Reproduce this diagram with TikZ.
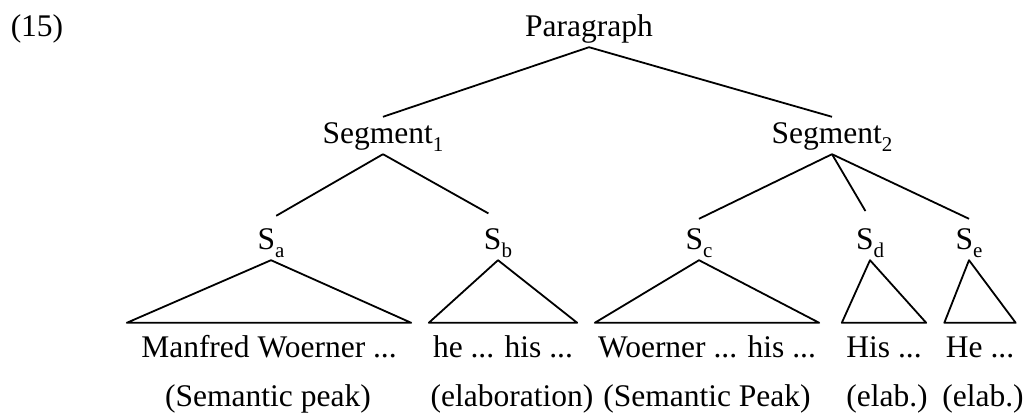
\documentclass[tikz,border=0pt]{standalone}
\usepackage{fontspec}
\setmainfont{Liberation Serif}
\usepackage{tikz}
\newcommand{\lowsub}[1]{\raisebox{-7.5pt}{\fontsize{21}{24}\selectfont #1}}
\tikzstyle{lbl} = [font=\fontsize{31.5}{36}\selectfont, inner sep=2pt, anchor=base]
\tikzstyle{cat} = [lbl, text height=25pt, text depth=8pt]
\tikzstyle{sent} = [lbl, text height=29pt, text depth=8pt]
\tikzstyle{leaf} = [lbl, inner sep=0pt, text height=34pt, text depth=0pt]
\tikzstyle{branch} = [line width=1.8pt, line join=round]

\begin{document}
\begin{tikzpicture}[x=1pt,y=-1pt]
    \useasboundingbox (0,0) rectangle (1028,414);
    \node (ex) [lbl] at (37,37) {(15)};
    \node (par) [cat] at (589,37) {Paragraph};
    \node (seg1) [cat] at (383,144) {Segment\lowsub{1}};
    \node (seg2) [cat] at (832,144) {Segment\lowsub{2}};

    \node (sa) [sent] at (271,250) {S\lowsub{a}};
    \node (sb) [sent] at (498,250) {S\lowsub{b}};
    \node (sc) [sent] at (699,250) {S\lowsub{c}};
    \node (sd) [sent] at (870,250) {S\lowsub{d}};
    \node (se) [sent] at (969,250) {S\lowsub{e}};

    \node (la) [leaf, minimum width=284pt] at (269,357) {Manfred Woerner ...};
    \node (lb) [leaf, minimum width=148pt] at (503,357) {he ... his ...};
    \node (lc) [leaf, minimum width=224pt] at (707,357) {Woerner ... his ...};
    \node (ld) [leaf, minimum width=84pt] at (884,357) {His ...};
    \node (le) [leaf, minimum width=71pt] at (980,357) {He ...};

    \node (ga) [lbl] at (268,406) {(Semantic peak)};
    \node (gb) [lbl] at (512,406) {(elaboration)};
    \node (gc) [lbl] at (707,406) {(Semantic Peak)};
    \node (gd) [lbl] at (887,406) {(elab.)};
    \node (ge) [lbl] at (983,406) {(elab.)};

    \draw[branch] (par.south) -- (seg1.north);
    \draw[branch] (par.south) -- (seg2.north);
    \draw[branch, shorten >=6pt] (seg1.south) -- (sa.north);
    \draw[branch, shorten >=11pt] (seg1.south) -- (sb.north);
    \draw[branch] (seg2.south) -- (sc.north);
    \draw[branch, shorten >=9pt] (seg2.south) -- (sd.north);
    \draw[branch] (seg2.south) -- (se.north);

    \draw[branch] (sa.south) -- (la.north west) -- (la.north east) -- cycle;
    \draw[branch] (sb.south) -- (lb.north west) -- (lb.north east) -- cycle;
    \draw[branch] (sc.south) -- (lc.north west) -- (lc.north east) -- cycle;
    \draw[branch] (sd.south) -- (ld.north west) -- (ld.north east) -- cycle;
    \draw[branch] (se.south) -- (le.north west) -- (le.north east) -- cycle;
\end{tikzpicture}
\end{document}
